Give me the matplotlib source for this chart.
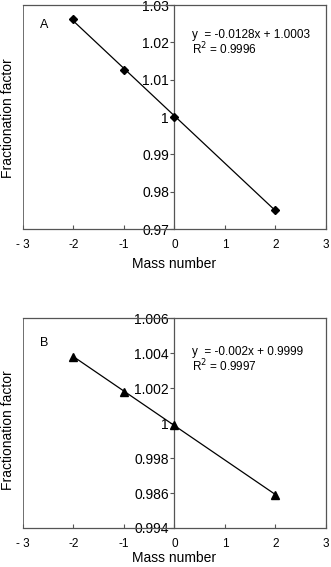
import matplotlib.pyplot as plt
import numpy as np

plt.rcParams['font.family'] = ['Liberation Sans', 'DejaVu Sans']

mass = [-2, -1, 0, 2]
frac_a = [1.0262, 1.0126, 1.0000, 0.9752]
frac_b = [1.0038, 1.0018, 0.9999, 0.9959]

xticks = [-3, -2, -1, 0, 1, 2, 3]
xlabels = ['- 3', '-2', '-1', '0', '1', '2', '3']
yticks_a = [0.97, 0.98, 0.99, 1.00, 1.01, 1.02, 1.03]
ylabels_a = ['0.97', '0.98', '0.99', '1', '1.01', '1.02', '1.03']
yticks_b = [0.994, 0.996, 0.998, 1.000, 1.002, 1.004, 1.006]
ylabels_b = ['0.994', '0.986', '0.998', '1', '1.002', '1.004', '1.006']

eq_a = 'y  = -0.0128x + 1.0003\nR$^2$ = 0.9996'
eq_b = 'y  = -0.002x + 0.9999\nR$^2$ = 0.9997'

fig = plt.figure(figsize=(3.31, 5.67), dpi=100)
ax_a = fig.add_axes([0.0695, 0.596, 0.915, 0.395])
ax_b = fig.add_axes([0.0695, 0.0688, 0.915, 0.370])

spine_col = '#555555'


def panel(ax, y, yticks, ylabels, marker, msize, letter, ly, eq, ey, xly):
    ax.plot(mass, y, linestyle='none', marker=marker, color='black', markersize=msize, zorder=3)
    coef = np.polyfit(mass, y, 1)
    xs = np.array([min(mass), max(mass)])
    ax.plot(xs, np.polyval(coef, xs), color='black', lw=0.9, zorder=2)
    ax.set_xlim(-3, 3)
    ax.set_ylim(yticks[0], yticks[-1])
    ax.set_xticks(xticks)
    ax.set_xticklabels(xlabels, fontsize=8.5)
    ax.set_yticks(yticks)
    ax.set_yticklabels(ylabels, fontsize=8.5)
    ax.tick_params(axis='x', direction='in', length=3, color=spine_col, pad=7)
    ax.tick_params(axis='y', direction='out', length=3, color=spine_col, pad=1)
    ax.spines['left'].set_position(('data', 0))
    for s in ax.spines.values():
        s.set_color(spine_col)
        s.set_linewidth(0.9)
    # outer frame left edge
    ax.axvline(-3, color=spine_col, lw=1.2)
    ax.set_xlabel('Mass number', fontsize=10)
    ax.xaxis.set_label_coords(0.5, xly)
    ax.text(0.056, ly, letter, transform=ax.transAxes, fontsize=9, va='center')
    ax.text(0.558, ey, eq, transform=ax.transAxes, fontsize=8.5, va='center', linespacing=0.95)


panel(ax_a, frac_a, yticks_a, ylabels_a, 'D', 4.5, 'A', 0.91, eq_a, 0.83, -0.125)
panel(ax_b, frac_b, yticks_b, ylabels_b, '^', 6, 'B', 0.88, eq_b, 0.80, -0.11)

fig.text(0.025, 0.792, 'Fractionation factor', rotation=90, fontsize=10, ha='center', va='center')
fig.text(0.025, 0.242, 'Fractionation factor', rotation=90, fontsize=10, ha='center', va='center')

fig.savefig('out.png', dpi=100)
